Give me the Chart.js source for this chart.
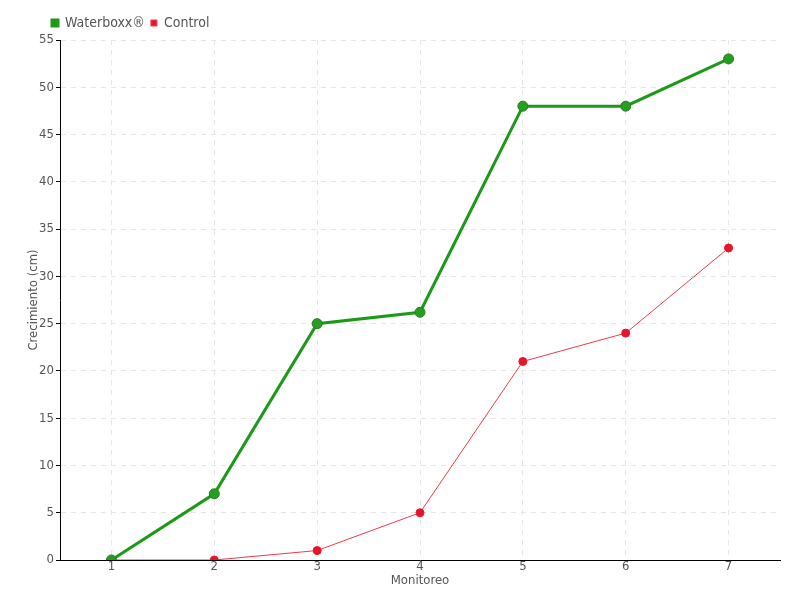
<!DOCTYPE html>
<html>
<head>
<meta charset="utf-8">
<script src="https://cdn.jsdelivr.net/npm/chart.js@4"></script>
<style>
  body { margin: 0; background: #fff; }
</style>
</head>
<body>
<canvas id="growthChart" width="800" height="600"></canvas>
<script>
const monitoreos = ["1", "2", "3", "4", "5", "6", "7"];
const waterboxx = [0, 7, 25, 26.2, 48, 48, 53];
const control = [0, 0, 1, 5, 21, 24, 33];

const fontFamily = "'DejaVu Sans Condensed', 'Liberation Sans Narrow', sans-serif";
const textColor = "#555";

// nudge the legend right so it starts over the y axis, like the original
const shiftLegend = {
  id: "shiftLegend",
  afterLayout(chart) {
    chart.legend.left += 19;
    chart.legend.right += 19;
  }
};

new Chart(document.getElementById("growthChart"), {
  type: "line",
  data: {
    labels: monitoreos,
    datasets: [
      { label: "Waterboxx®", data: waterboxx, borderColor: "#1c9a17", backgroundColor: "#1c9a17", pointBackgroundColor: "#24a01e", pointBorderColor: "#2a7a22", pointBorderWidth: 1, borderWidth: 3, pointRadius: 5, tension: 0 },
      { label: "Control", data: control, borderColor: "#f03a48", backgroundColor: "#e8142a", pointBackgroundColor: "#e8142a", pointBorderColor: "#e8142a", borderWidth: 1, pointRadius: 4, tension: 0 }
    ]
  },
  options: {
    responsive: false,
    animation: false,
    layout: { padding: { left: 27, right: 20, top: 10, bottom: 13 } },
    plugins: {
      legend: {
        align: "start",
        labels: { boxWidth: 6, boxHeight: 6, padding: 6, color: textColor, font: { family: fontFamily, size: 14 } }
      },
      tooltip: { enabled: false }
    },
    scales: {
      x: {
        offset: true,
        grid: { color: "#e6e6e6", drawTicks: false, offset: false },
        border: { color: "#000", width: 1, dash: [5, 5] },
        ticks: { color: textColor, padding: 0, font: { family: fontFamily, size: 13, lineHeight: 1 } },
        title: { display: true, text: "Monitoreo", color: textColor, padding: { top: 1, bottom: 0 }, font: { family: fontFamily, size: 13, lineHeight: 1 } }
      },
      y: {
        min: 0, max: 55,
        afterFit: s => { s.width = 33; },
        grid: { color: "#e6e6e6", tickLength: 4, tickColor: "#000", tickBorderDash: [] },
        border: { color: "#000", width: 1, dash: [5, 5] },
        ticks: { stepSize: 5, color: textColor, padding: 2, font: { family: fontFamily, size: 13 } },
        title: { display: true, text: "Crecimiento (cm)", color: textColor, padding: 0, font: { family: fontFamily, size: 13, lineHeight: 1 } }
      }
    }
  },
  plugins: [shiftLegend]
});
</script>
</body>
</html>
